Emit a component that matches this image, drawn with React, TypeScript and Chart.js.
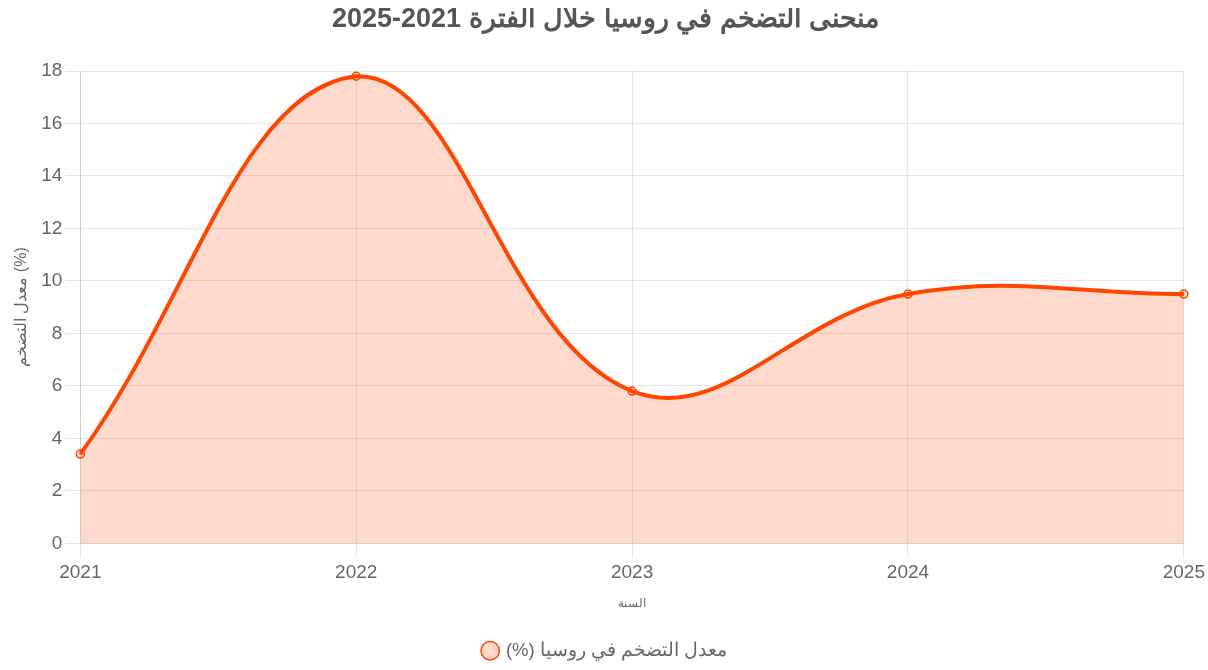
import React, { useEffect, useRef } from "react";
import { Chart, registerables } from "chart.js";

Chart.register(...registerables);

const years: string[] = ["2021", "2022", "2023", "2024", "2025"];
const inflation: number[] = [3.4, 17.8, 5.8, 9.5, 9.5];

const titleText = "منحنى التضخم في روسيا خلال الفترة 2021-2025";
const seriesLabel = "معدل التضخم في روسيا (%)";
const yTitle = "معدل التضخم (%)";
const xTitle = "السنة";

export default function App() {
  const ref = useRef<HTMLCanvasElement | null>(null);
  useEffect(() => {
    if (!ref.current) return;
    const chart = new Chart(ref.current, {
      type: "line",
      data: {
        labels: years,
        datasets: [
          {
            label: seriesLabel,
            data: inflation,
            borderColor: "#ff4500",
            backgroundColor: "rgba(255,69,0,0.2)",
            fill: true,
            tension: 0.4,
            borderWidth: 4,
            pointRadius: 4,
            pointBorderWidth: 1.5,
            pointBackgroundColor: "rgba(255,69,0,0.2)",
            pointBorderColor: "#ff4500",
          },
        ],
      },
      options: {
        animation: false,
        responsive: true,
        maintainAspectRatio: false,
        layout: { padding: { right: 5 } },
        plugins: {
          title: {
            display: true,
            text: titleText,
            color: "#555",
            font: { size: 27, weight: "bold", lineHeight: 0.8 },
            padding: { top: 1, bottom: 40.4 },
          },
          legend: {
            position: "bottom",
            textDirection: "rtl",
            labels: {
              usePointStyle: true,
              boxWidth: 13,
              boxHeight: 13,
              color: "#666",
              font: { size: 18.5 },
              padding: 20,
            },
          },
        },
        scales: {
          x: {
            title: {
              display: true,
              text: xTitle,
              color: "#666",
              font: { size: 12 },
              padding: { top: 9, bottom: 11 },
            },
            ticks: { color: "#666", font: { size: 19 }, padding: 3 },
            grid: { color: "rgba(0,0,0,0.1)", tickLength: 15 },
          },
          y: {
            min: 0,
            max: 18,
            title: {
              display: true,
              text: yTitle,
              color: "#666",
              font: { size: 16 },
              padding: { top: 4, bottom: 7 },
            },
            ticks: { color: "#666", font: { size: 19 }, stepSize: 2, padding: 3 },
            grid: { color: "rgba(0,0,0,0.1)", tickLength: 15 },
          },
        },
      },
    });
    return () => chart.destroy();
  }, []);
  return (
    <div style={{ position: "absolute", left: 8, top: 8, width: 1200, height: 662 }}>
      <canvas ref={ref} />
    </div>
  );
}
